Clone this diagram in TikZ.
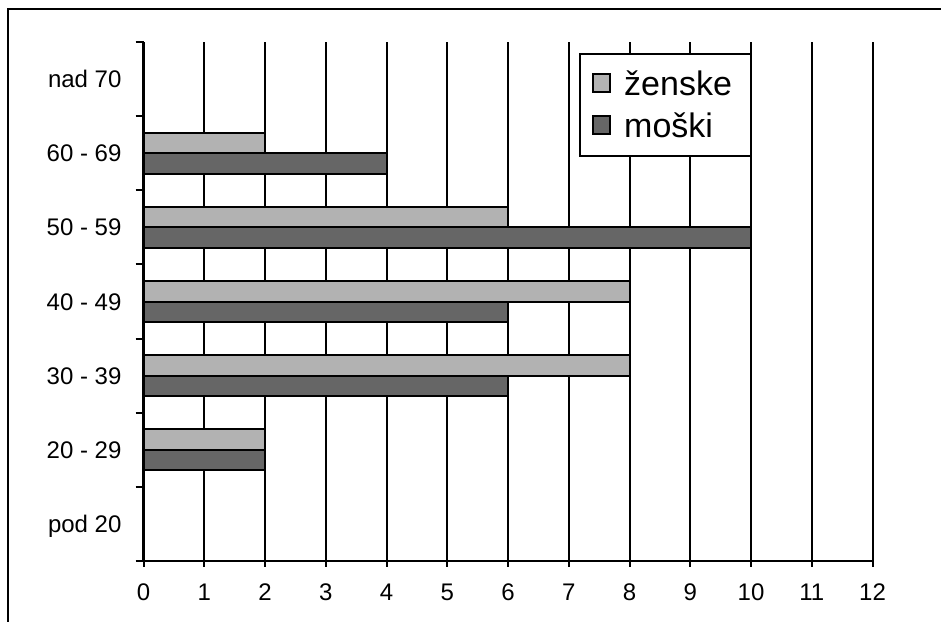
\documentclass[tikz,border=0pt]{standalone}
\usepackage{fontspec}
\setmainfont{Liberation Sans}
\usetikzlibrary{positioning}

\definecolor{zenske}{HTML}{B2B2B2}
\definecolor{moski}{HTML}{666666}

\tikzset{
    gridline/.style={line width=2pt},
    zbar/.style={draw, line width=2pt, fill=zenske},
    mbar/.style={draw, line width=2pt, fill=moski},
    axislabel/.style={font=\fontsize{24}{28}\selectfont, inner sep=0pt, text height=17pt, text depth=0pt},
    legendtext/.style={font=\fontsize{34}{40}\selectfont, inner sep=0pt, anchor=west}
}

\begin{document}
\begin{tikzpicture}[x=1pt, y=-1pt]
    \useasboundingbox (0,0) rectangle (941,621);
    \clip (0,0) rectangle (941,621);
    \draw [line width=1.5pt] (8,640) -- (8,9) -- (960,9);

    \begin{scope}[shift={(143.5pt,-561pt)}, x=60.75pt, y=74.14pt]
        % grid and axes
        \foreach \v in {1,...,12}
            \draw [gridline] (\v,0) -- (\v,7);
        \foreach \k in {0,...,7}
            \draw [gridline] (-0.13,\k) -- (0,\k);
        \foreach \v in {0,...,12}
            \draw [gridline] (\v,0) -- (\v,-0.08);
        \draw [line width=2.2pt] (0,7) -- (0,0) -- (12,0);

        % bars: zenske above, moski below
        \foreach \k/\z/\m in {1/2/2, 2/8/6, 3/8/6, 4/6/10, 5/2/4} {
            \draw [zbar] (0,\k+0.5) rectangle (\z,\k+0.775);
            \draw [mbar] (0,\k+0.225) rectangle (\m,\k+0.5);
        }

        % category labels
        \foreach \k/\t in {0/pod 20, 1/20 - 29, 2/30 - 39, 3/40 - 49, 4/50 - 59, 5/60 - 69, 6/nad 70}
            \node [axislabel, anchor=east] (cat\k) at (-0.36,\k+0.5) {\t};
        % value labels
        \foreach \v in {0,...,12}
            \node [axislabel] (val\v) at (\v,-0.42) {\v};
    \end{scope}

    % legend
    \draw [line width=1.6pt, fill=white] (580,54) rectangle (751,156);
    \draw [line width=1.5pt, fill=zenske] (593,74) rectangle (610,92);
    \draw [line width=1.5pt, fill=moski] (593,116) rectangle (610,134);
    \node [legendtext] (zen) at (624,83) {ženske};
    \node [legendtext] (mos) at (624,125) {moški};
\end{tikzpicture}
\end{document}
